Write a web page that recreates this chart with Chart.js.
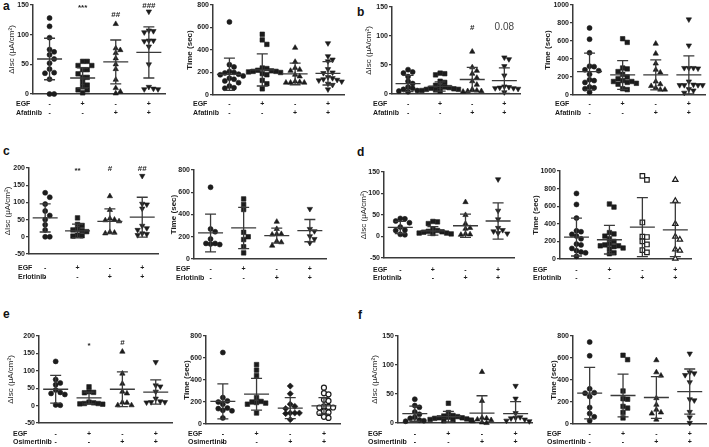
<!DOCTYPE html>
<html>
<head>
<meta charset="utf-8">
<script src="https://cdn.jsdelivr.net/npm/chart.js@4.4.1/dist/chart.umd.min.js"></script>
<style>
  body { margin: 0; background: #fff; width: 709px; height: 447px; position: relative; overflow: hidden;
         font-family: "Liberation Sans", Arial, sans-serif; }
  .panel { position: absolute; }
  .tag { position: absolute; font-weight: bold; font-size: 12px; line-height: 12px; color: #111; }
</style>
</head>
<body>
<div class="tag" style="left:3px;top:0px">a</div>
<div class="tag" style="left:357px;top:6px">b</div>
<div class="tag" style="left:3px;top:145px">c</div>
<div class="tag" style="left:357px;top:146px">d</div>
<div class="tag" style="left:3px;top:308px">e</div>
<div class="tag" style="left:358px;top:309px">f</div>
<script>
// row labels under every plot
const egfSigns = ['-', '+', '-', '+'];
const drugSigns = ['-', '-', '+', '+'];
const iscTitle = 'ΔIsc (μA/cm²)';
const timeTitle = 'Time (sec)';

// a: Afatinib
const aIscValues = [
  [128, 114, 95, 75, 71, 66, 59, 52, 42, 36, 35, 25, 0, 0],
  [55, 55, 48, 48, 41, 41, 34, 28, 28, 20, 15, 12, 7, 7, 2],
  [118, 77, 74, 69, 60, 50, 42, 24, 10, 4, 1],
  [139, 107, 106, 104, 90, 90, 89, 80, 50, 12, 9, 8, 8]
];
const aIscMeans = [59, 27, 54, 70];
const aIscSD = [35, 17, 37, 43];
const aIscMarks = ['', '***', '##', '###'];
const aIscMarkAt = [0, 145, 134, 149];

const aTimeValues = [
  [650, 270, 250, 210, 200, 195, 185, 180, 170, 150, 140, 125, 110, 80, 65, 60],
  [540, 490, 450, 240, 235, 220, 215, 210, 210, 205, 200, 190, 180, 130, 100, 55],
  [420, 295, 240, 225, 215, 180, 165, 120, 115, 110, 110, 110],
  [460, 345, 315, 300, 230, 200, 195, 160, 150, 140, 135, 130, 120, 100, 90, 50]
];
const aTimeMeans = [184, 223, 187, 193];
const aTimeSD = [143, 143, 96, 104];

// b: Afatinib
const bIscValues = [
  [42, 38, 36, 30, 22, 18, 12, 10, 8, 6, 5, 4],
  [36, 35, 33, 22, 20, 15, 13, 12, 11, 10, 9, 8, 8, 7, 6, 5],
  [73, 46, 40, 35, 28, 22, 16, 8, 6, 5, 5, 4],
  [63, 60, 48, 32, 13, 12, 11, 10, 10, 9, 3]
];
const bIscMeans = [18, 13, 25, 23];
const bIscSD = [14, 8, 21, 22];
const bIscMarks = ['', '', '#', '0.08'];
const bIscMarkAt = [0, 0, 115, 115];

const bTimeValues = [
  [745, 620, 470, 320, 315, 280, 270, 230, 170, 160, 140, 90, 80, 70, 30],
  [625, 585, 300, 290, 260, 230, 200, 180, 160, 150, 150, 140, 130, 120, 70, 60],
  [570, 460, 350, 280, 250, 150, 120, 100, 80, 60, 60],
  [840, 550, 300, 300, 300, 295, 150, 115, 110, 110, 110, 110, 65, 50, 25]
];
const bTimeMeans = [260, 223, 223, 223];
const bTimeSD = [205, 160, 167, 212];

// c: Erlotinib
const cIscValues = [
  [128, 115, 95, 75, 62, 50, 35, 20, 0, 0],
  [55, 36, 33, 22, 20, 18, 15, 5, 3, 2],
  [118, 78, 53, 50, 48, 45, 14, 12, 10],
  [177, 96, 94, 82, 32, 25, 20, 10, 8, 5]
];
const cIscMeans = [55, 17, 45, 57];
const cIscSD = [41, 20, 36, 58];
const cIscMarks = ['', '**', '#', '##'];
const cIscMarkAt = [0, 193, 199, 199];

const cTimeValues = [
  [645, 270, 245, 180, 140, 140, 135, 130],
  [540, 490, 445, 240, 200, 175, 110, 55],
  [335, 270, 225, 225, 220, 160, 150, 120],
  [450, 270, 250, 205, 180, 145]
];
const cTimeMeans = [234, 279, 210, 255];
const cTimeSD = [170, 185, 68, 100];

// d: Erlotinib
const dIscValues = [
  [42, 41, 36, 32, 22, 15, 14, 5, 4],
  [35, 34, 30, 18, 14, 12, 11, 10, 8, 8, 7, 6],
  [80, 50, 30, 20, 18, 6, 5, 4],
  [133, 60, 40, 20, 15, 12, 8, 7]
];
const dIscMeans = [21, 13, 25, 36];
const dIscSD = [14, 10, 27, 42];

const dTimeValues = [
  [745, 620, 465, 320, 310, 280, 260, 230, 170, 160, 120, 95, 80, 70, 30],
  [625, 590, 300, 285, 260, 230, 200, 175, 160, 150, 150, 140, 125, 115, 70, 60],
  [945, 900, 415, 255, 250, 200, 165, 100, 75],
  [900, 660, 400, 255, 220, 110, 95, 5]
];
const dTimeMeans = [249, 219, 362, 332];
const dTimeSD = [215, 162, 336, 306];

// e: Osimertinib
const eIscValues = [
  [127, 75, 65, 60, 45, 38, 35, 32, 2, 1],
  [54, 40, 38, 37, 10, 8, 6, 6, 5, 4],
  [155, 92, 63, 40, 35, 9, 8, 1, 1],
  [125, 58, 55, 40, 20, 12, 10, 10, 9]
];
const eIscMeans = [47, 22, 47, 39];
const eIscSD = [40, 17, 50, 35];
const eIscMarks = ['', '*', '#', ''];
const eIscMarkAt = [0, 171, 181, 0];

const eTimeValues = [
  [650, 240, 210, 200, 180, 145, 140, 125, 120, 55],
  [540, 490, 440, 240, 205, 200, 195, 190, 180, 100],
  [345, 275, 180, 160, 140, 100, 100, 100, 95, 40],
  [330, 280, 270, 220, 210, 160, 155, 150, 150, 115, 105, 100, 65, 55]
];
const eTimeMeans = [205, 271, 144, 165];
const eTimeSD = [159, 144, 96, 75];

// f: Osimertinib
const fIscValues = [
  [41, 30, 27, 19, 15, 10, 8, 5, 4, 3],
  [34, 18, 13, 12, 11, 10, 9, 9, 8, 7, 6, 5, 5, 4],
  [88, 38, 9, 8, 6, 5, 3, 1, 0],
  [64, 42, 17, 10, 9, 8, 6, 4, 3]
];
const fIscMeans = [16, 11, 17, 16];
const fIscSD = [13, 9, 30, 21];

const fTimeValues = [
  [745, 620, 320, 285, 280, 250, 150, 95, 65, 30],
  [625, 585, 300, 230, 225, 160, 145, 105, 55],
  [580, 470, 440, 235, 175, 130, 105, 95, 40],
  [640, 470, 460, 445, 380, 225, 215, 110, 60, 10]
];
const fTimeMeans = [280, 259, 241, 295];
const fTimeSD = [234, 195, 189, 205];

const baseShapes = ['circle', 'rect', 'triangle', 'triangleDown'];

Chart.defaults.font.family = '"Liberation Sans", Arial, sans-serif';
const INK = '#1c1c1c';
const LINE = '#3a3a3a';

// spread points sideways so they don't sit on top of each other
function swarm(values, pxPerUnit, cat, catPx) {
  const d = 4.6;
  const placed = [];
  const out = [];
  const order = values.map((v, i) => i).sort((i, j) => values[j] - values[i]);
  order.forEach(i => {
    const py = values[i] * pxPerUnit;
    let off = 0;
    for (let k = 0; k < 30; k++) {
      const o = (k % 2 ? 1 : -1) * Math.ceil(k / 2) * d;
      if (placed.every(p => Math.hypot(p.x - o, p.y - py) >= d)) { off = o; break; }
    }
    placed.push({ x: off, y: py });
    out.push({ x: cat + off / catPx, y: values[i] });
  });
  return out;
}

function markerFor(shape) {
  const open = shape.endsWith('Open');
  const s = shape.replace('Open', '');
  if (s === 'triangleDown') return { style: 'triangle', rot: 180, r: 3.1, open };
  if (s === 'triangle') return { style: 'triangle', rot: 0, r: 3.1, open };
  if (s === 'rect') return { style: 'rect', rot: 0, r: 3.2, open };
  if (s === 'rectRot') return { style: 'rectRot', rot: 0, r: 3.1, open };
  return { style: 'circle', rot: 0, r: 2.5, open };
}

function makePanel(p) {
  const PL = 14, PT = 6, PR = 4;
  const YW = p.gap + 4;
  const XH = p.row2 - p.B + 7;
  const w = p.R - p.L, h = p.B - p.T;
  const left = p.L - YW - PL, top = p.T - PT;
  const box = document.createElement('div');
  box.className = 'panel';
  box.style.left = left + 'px';
  box.style.top = top + 'px';
  box.style.width = (w + YW + PL + PR) + 'px';
  box.style.height = (h + PT + XH) + 'px';
  const cv = document.createElement('canvas');
  box.appendChild(cv);
  document.body.appendChild(box);

  const pxPerUnit = h / (p.max - p.min);
  const catPx = w / 4;
  const datasets = p.values.map((vals, g) => {
    const m = markerFor(p.shapes[g]);
    return {
      data: swarm(vals, pxPerUnit, g + 1, catPx),
      pointStyle: m.style,
      rotation: m.rot,
      pointRadius: m.r,
      backgroundColor: m.open ? '#fff' : INK,
      borderColor: INK,
      borderWidth: m.open ? 1.2 : 0.6,
      clip: false
    };
  });

  const stats = {
    id: 'stats' + p.id,
    afterDatasetsDraw(chart) {
      const { ctx, scales: { x, y } } = chart;
      ctx.save();
      ctx.strokeStyle = LINE;
      ctx.lineWidth = 1.3;
      p.means.forEach((m, g) => {
        const cx = x.getPixelForValue(g + 1);
        const hi = m + p.sd[g], lo = m - p.sd[g];
        const ty = y.getPixelForValue(Math.min(hi, p.max));
        const by = y.getPixelForValue(Math.max(lo, p.min));
        const my = y.getPixelForValue(m);
        ctx.beginPath();
        ctx.moveTo(cx - 12.5, my); ctx.lineTo(cx + 12.5, my);
        ctx.moveTo(cx, ty); ctx.lineTo(cx, by);
        ctx.moveTo(cx - 5.5, ty); ctx.lineTo(cx + 5.5, ty);
        if (lo > p.min) { ctx.moveTo(cx - 5.5, by); ctx.lineTo(cx + 5.5, by); }
        ctx.stroke();
      });
      ctx.restore();
    },
    afterDraw(chart) {
      const { ctx, scales: { x, y } } = chart;
      ctx.save();
      ctx.fillStyle = INK;
      ctx.textBaseline = 'middle';
      ctx.font = 'bold 7px "Liberation Sans", Arial, sans-serif';
      const r1 = p.row1 - top, r2 = p.row2 - top;
      ctx.textAlign = 'left';
      ctx.fillText('EGF', p.labelX - left, r1);
      ctx.fillText(p.drug, p.labelX - left, r2);
      ctx.textAlign = 'center';
      for (let g = 0; g < 4; g++) {
        const cx = x.getPixelForValue(g + 1);
        ctx.fillText(egfSigns[g], cx, r1);
        ctx.fillText(drugSigns[g], cx, r2);
      }
      if (p.marks) {
        p.marks.forEach((t, g) => {
          if (!t) return;
          const cx = x.getPixelForValue(g + 1);
          if (t === '0.08') {
            ctx.font = '10px "Liberation Sans", Arial, sans-serif';
            ctx.fillStyle = '#444';
          } else {
            ctx.font = 'bold 8px "Liberation Sans", Arial, sans-serif';
            ctx.fillStyle = INK;
          }
          ctx.fillText(t, cx, y.getPixelForValue(p.markAt[g]));
        });
      }
      ctx.restore();
    }
  };

  new Chart(cv, {
    type: 'scatter',
    data: { datasets },
    options: {
      responsive: true,
      maintainAspectRatio: false,
      animation: false,
      devicePixelRatio: 1,
      layout: { padding: { left: PL, top: PT, right: PR, bottom: 0 } },
      plugins: { legend: { display: false }, tooltip: { enabled: false } },
      scales: {
        x: {
          type: 'linear', min: 0.5, max: 4.5,
          afterFit: s => { s.height = XH; },
          ticks: { display: false },
          grid: { display: false },
          border: { display: true, color: LINE, width: 1.5 }
        },
        y: {
          min: p.min, max: p.max,
          afterFit: s => { s.width = YW; },
          ticks: { stepSize: p.step, color: INK, padding: 1,
                   font: { size: 7, weight: 'bold' },
                   callback: v => String(v) },
          grid: { drawOnChartArea: false, drawTicks: true, tickLength: 3, color: LINE, lineWidth: 1.2 },
          border: { display: true, color: LINE, width: 1.5 },
          title: { display: true, text: p.title, color: INK, padding: { top: 0, bottom: 0 },
                   font: { size: 8, weight: p.title === timeTitle ? 'bold' : 'normal', lineHeight: 1 } }
        }
      }
    },
    plugins: [stats]
  });
}

const panels = [
  { id: 'aI', L: 33, T: 5, R: 166, B: 94, min: 0, max: 150, step: 50, title: iscTitle, gap: 21,
    row1: 104, row2: 113, labelX: 16, drug: 'Afatinib', values: aIscValues, means: aIscMeans, sd: aIscSD,
    marks: aIscMarks, markAt: aIscMarkAt, shapes: baseShapes },
  { id: 'aT', L: 213, T: 5, R: 345, B: 95, min: 0, max: 800, step: 200, title: timeTitle, gap: 23,
    row1: 104, row2: 113, labelX: 193, drug: 'Afatinib', values: aTimeValues, means: aTimeMeans, sd: aTimeSD,
    shapes: baseShapes },
  { id: 'bI', L: 392, T: 7, R: 521, B: 94, min: 0, max: 150, step: 50, title: iscTitle, gap: 23,
    row1: 104, row2: 113, labelX: 373, drug: 'Afatinib', values: bIscValues, means: bIscMeans, sd: bIscSD,
    marks: bIscMarks, markAt: bIscMarkAt, shapes: baseShapes },
  { id: 'bT', L: 573, T: 5, R: 706, B: 95, min: 0, max: 1000, step: 200, title: timeTitle, gap: 25,
    row1: 104, row2: 113, labelX: 555, drug: 'Afatinib', values: bTimeValues, means: bTimeMeans, sd: bTimeSD,
    shapes: baseShapes },
  { id: 'cI', L: 29, T: 168, R: 159, B: 254, min: -50, max: 200, step: 50, title: iscTitle, gap: 21,
    row1: 268, row2: 277, labelX: 18, drug: 'Erlotinib', values: cIscValues, means: cIscMeans, sd: cIscSD,
    marks: cIscMarks, markAt: cIscMarkAt, shapes: baseShapes },
  { id: 'cT', L: 194, T: 170, R: 327, B: 259, min: 0, max: 800, step: 200, title: timeTitle, gap: 20,
    row1: 269, row2: 278, labelX: 176, drug: 'Erlotinib', values: cTimeValues, means: cTimeMeans, sd: cTimeSD,
    shapes: baseShapes },
  { id: 'dI', L: 384, T: 172, R: 515, B: 258, min: -50, max: 150, step: 50, title: iscTitle, gap: 20,
    row1: 270, row2: 278, labelX: 373, drug: 'Erlotinib', values: dIscValues, means: dIscMeans, sd: dIscSD,
    shapes: baseShapes },
  { id: 'dT', L: 560, T: 171, R: 693, B: 259, min: 0, max: 1000, step: 200, title: timeTitle, gap: 24,
    row1: 270, row2: 278, labelX: 533, drug: 'Erlotinib', values: dTimeValues, means: dTimeMeans, sd: dTimeSD,
    shapes: ['circle', 'rect', 'rectOpen', 'triangleOpen'] },
  { id: 'eI', L: 39, T: 336, R: 173, B: 423, min: -50, max: 200, step: 50, title: iscTitle, gap: 28,
    row1: 434, row2: 442, labelX: 13, drug: 'Osimertinib', values: eIscValues, means: eIscMeans, sd: eIscSD,
    marks: eIscMarks, markAt: eIscMarkAt, shapes: baseShapes },
  { id: 'eT', L: 206, T: 336, R: 342, B: 424, min: 0, max: 800, step: 200, title: timeTitle, gap: 19,
    row1: 434, row2: 442, labelX: 188, drug: 'Osimertinib', values: eTimeValues, means: eTimeMeans, sd: eTimeSD,
    shapes: ['circle', 'rect', 'rectRot', 'circleOpen'] },
  { id: 'fI', L: 398, T: 336, R: 533, B: 423, min: 0, max: 150, step: 50, title: iscTitle, gap: 23,
    row1: 434, row2: 442, labelX: 368, drug: 'Osimertinib', values: fIscValues, means: fIscMeans, sd: fIscSD,
    shapes: baseShapes },
  { id: 'fT', L: 573, T: 336, R: 707, B: 424, min: 0, max: 800, step: 200, title: timeTitle, gap: 19,
    row1: 434, row2: 442, labelX: 547, drug: 'Osimertinib', values: fTimeValues, means: fTimeMeans, sd: fTimeSD,
    shapes: baseShapes }
];

panels.forEach(makePanel);
</script>
</body>
</html>
